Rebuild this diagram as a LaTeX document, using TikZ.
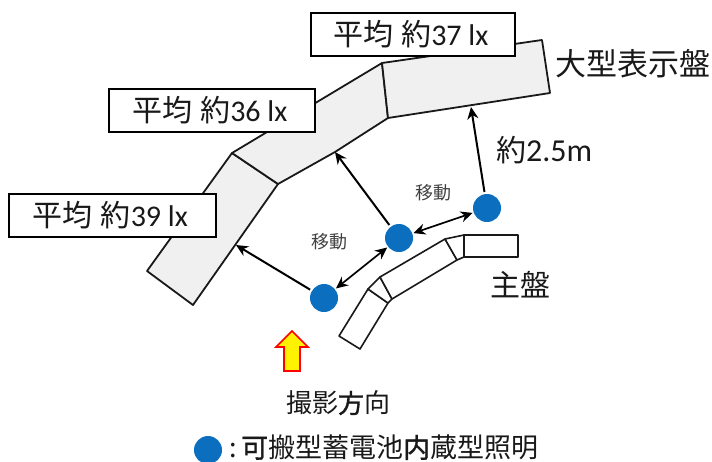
\documentclass[tikz,border=0pt]{standalone}
\usepackage{fontspec}
\setmainfont{Carlito}
\newfontfamily\cjk{Noto Sans CJK JP}
\usetikzlibrary{arrows.meta}
\definecolor{panelgrey}{HTML}{F0F0F0}
\definecolor{dotblue}{HTML}{0B6EBE}
\tikzset{
  panel/.style={draw=black!90,line width=1.8pt,fill=panelgrey,line join=round},
  board/.style={draw=black!90,line width=1.6pt,fill=white,line join=round},
  lxbox/.style={draw=black,line width=1.6pt,fill=white,rectangle,inner sep=0pt,anchor=north west},
  lamp/.style={circle,fill=dotblue,minimum size=28pt,inner sep=0pt},
  arr/.style={draw=black,line width=2pt,-{Stealth[length=12pt,width=11pt]}},
  darr/.style={draw=black,line width=1.7pt,{Stealth[length=12pt,width=11pt]}-{Stealth[length=12pt,width=11pt]}},
  lab/.style={text=black!90,inner sep=0pt,font=\fontsize{30}{32}\selectfont},
  movelab/.style={text=black!75,inner sep=0pt,font=\cjk\fontsize{18}{20}\selectfont},
}
\begin{document}
\begin{tikzpicture}[x=1pt,y=-1pt]
\useasboundingbox (0,0) rectangle (712,461);
% large display board
\draw[panel] (147,271) -- (232,153) -- (278,184) -- (193,305) -- cycle;
\draw[panel] (232,153) -- (382,63) -- (388,118) -- (335,152) -- (278,184) -- cycle;
\draw[panel] (382,63) -- (542,40) -- (550,93) -- (388,118) -- cycle;
% main board
\draw[board] (339,336) -- (368,289) -- (388,303) -- (360,349) -- cycle;
\draw[board] (368,289) -- (380,277) -- (392,299) -- (388,303) -- cycle;
\draw[board] (380,277) -- (445,239) -- (457,260) -- (392,299) -- cycle;
\draw[board] (445,239) -- (464,235) -- (464,257) -- (457,260) -- cycle;
\draw[board] (464,235) rectangle (518,257);
% lux labels
\node[lxbox,minimum width=204pt,minimum height=43pt] (b37) at (310,12) {};
\node[lxbox,minimum width=206pt,minimum height=43pt] (b36) at (108,88) {};
\node[lxbox,minimum width=207pt,minimum height=43pt] (b39) at (8,193) {};
\node[lab,anchor=center,xshift=-2pt] at (b37.center) {\cjk 平均\hspace{8pt}約\rmfamily 37 lx};
\node[lab,anchor=center,xshift=-2pt] at (b36.center) {\cjk 平均\hspace{8pt}約\rmfamily 36 lx};
\node[lab,anchor=center,xshift=-2pt] at (b39.center) {\cjk 平均\hspace{8pt}約\rmfamily 39 lx};
% lamps
\node[lamp] (l1) at (324,298) {};
\node[lamp] (l2) at (399,238) {};
\node[lamp] (l3) at (487,208) {};
\coordinate (p1) at (236,245);
\coordinate (p2) at (335,152);
\coordinate (p3) at (471,107);
\draw[arr,shorten <=2pt] (l1) -- (p1);
\draw[arr,shorten <=2pt] (l2) -- (p2);
\draw[arr,shorten <=2pt] (l3) -- (p3);
\draw[darr,shorten <=1pt,shorten >=1pt] (l1) -- (l2);
\draw[darr,shorten <=1pt,shorten >=1pt] (l2) -- (l3);
% texts
\node[movelab] (m1) at (329,242) {移動};
\node[movelab] (m2) at (433,193) {移動};
\node[lab,font=\cjk\fontsize{31}{33}\selectfont,anchor=west] (t1) at (555,64) {大型表示盤};
\node[lab,font=\cjk\fontsize{30}{32}\selectfont,anchor=west] (t2) at (490,285) {主盤};
\node[lab,anchor=west,font=\fontsize{32}{34}\selectfont] (t3) at (496,150) {{\cjk\fontsize{30}{32}\selectfont 約}2.5m};
% camera arrow
\draw[draw=red,line width=1.6pt,fill=yellow,line join=miter]
  (292,331) -- (308,347) -- (300,347) -- (300,371) -- (284,371) -- (284,347) -- (276,347) -- cycle;
\node[lab,font=\cjk\fontsize{26}{28}\selectfont] (t4) at (338,403) {撮影{\addfontfeature{FakeBold=1.2}方}向};
\node[lamp,minimum size=28pt] (leg) at (208,450) {};
\node[lab,font=\cjk\fontsize{27}{28}\selectfont,anchor=west] (t5) at (229,447.5) {:\,{\addfontfeature{FakeBold=1.2}可}搬型蓄電池{\addfontfeature{FakeBold=1.2}内}蔵型照明};
\end{tikzpicture}
\end{document}
